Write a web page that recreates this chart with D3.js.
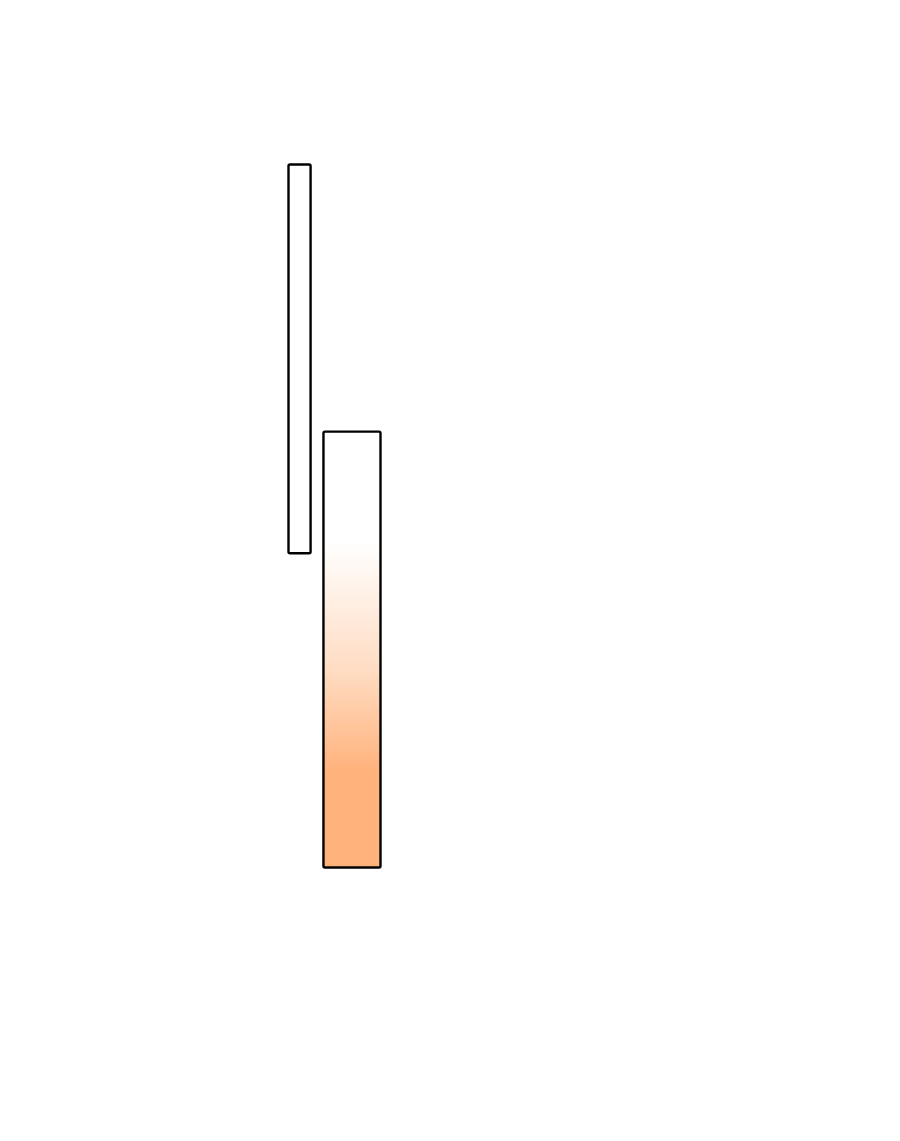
<!DOCTYPE html>
<html>
<head>
<meta charset="utf-8">
<script src="https://cdn.jsdelivr.net/npm/d3@7"></script>
<style>
  body { margin: 0; background: #fff; }
</style>
</head>
<body>
<div id="chart"></div>
<script>
// floating bars, x extents and y extents in chart units
const categories = ["A", "B"];
const xStart = [0, 3.8];
const xEnd = [2.4, 10];
const yLow = [4.47, 0];
const yHigh = [10, 6.2];
const fills = ["plain", "gradient"];

const width = 900, height = 1141;

const svg = d3.select("#chart")
    .append("svg")
    .attr("width", width)
    .attr("height", height);

let x = d3.scaleLinear().domain([0, 10]).range([288.5, 380.5]);
let y = d3.scaleLinear().domain([0, 10]).range([867.5, 164.5]);

// gradient for the wide bar: white on top, orange at the bottom
let grad = svg.append("defs")
    .append("linearGradient")
    .attr("id", "orangeFade")
    .attr("x1", 0).attr("y1", 0)
    .attr("x2", 0).attr("y2", 1);
grad.append("stop").attr("offset", "25%").attr("stop-color", "#ffffff");
grad.append("stop").attr("offset", "55%").attr("stop-color", "#ffdcc2");
grad.append("stop").attr("offset", "78%").attr("stop-color", "#ffb27b");
grad.append("stop").attr("offset", "100%").attr("stop-color", "#ffb27b");

svg.selectAll("rect.bar")
    .data(categories)
    .enter()
    .append("rect")
    .attr("class", "bar")
    .attr("x", (d, i) => x(xStart[i]))
    .attr("y", (d, i) => y(yHigh[i]))
    .attr("width", (d, i) => x(xEnd[i]) - x(xStart[i]))
    .attr("height", (d, i) => y(yLow[i]) - y(yHigh[i]))
    .attr("rx", 1.5)
    .attr("fill", (d, i) => fills[i] === "gradient" ? "url(#orangeFade)" : "#ffffff")
    .attr("stroke", "#000")
    .attr("stroke-width", 2.4);
</script>
</body>
</html>
